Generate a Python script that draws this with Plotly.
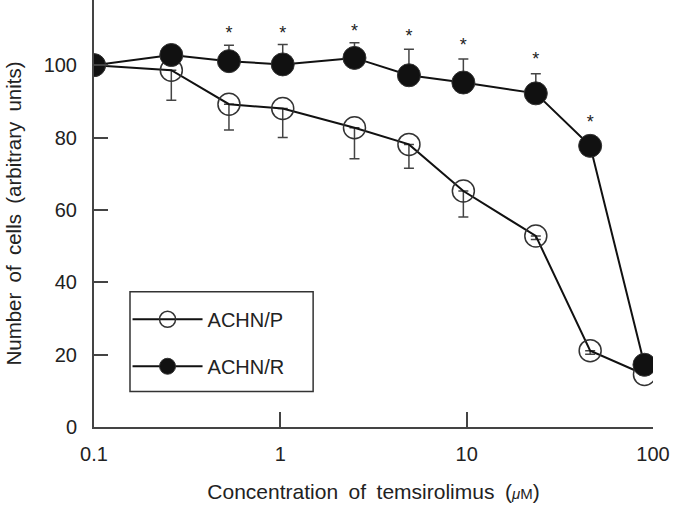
import numpy as np
import plotly.graph_objects as go

conc = [0.1, 0.26, 0.53, 1.03, 2.5, 4.9, 9.6, 23.5, 46, 90]
achn_p = [100, 98.6, 89.2, 88.0, 82.7, 78.1, 65.2, 52.8, 21.1, 14.5]
achn_p_err = [0, 8.3, 7.1, 8.0, 8.6, 6.6, 7.2, 1.0, 1.0, 0]
achn_r = [100, 102.8, 101.1, 100.2, 102.0, 97.2, 95.2, 92.2, 77.7, 17.2]
achn_r_err = [0, 1.0, 4.4, 5.5, 4.2, 7.2, 6.5, 5.4, 0.5, 0]
star_conc = [0.53, 1.03, 2.5, 4.9, 9.6, 23.5, 46]
star_y = [108.4, 108.4, 108.9, 107.6, 105.2, 101.3, 83.8]
x_ticks = [0.1, 1, 10, 100]
x_ticklabels = ["0.1", "1", "10", "100"]
y_ticks = [0, 20, 40, 60, 80, 100]

FONT = "Liberation Sans, Arial, Helvetica, sans-serif"
TXT = "#222222"
SP = "\u2002"

fig = go.Figure()
fig.add_trace(go.Scatter(
    x=conc, y=achn_p, name="ACHN/P", mode="lines+markers",
    legendgroup="p",
    line=dict(color="#111111", width=2),
    marker=dict(symbol="circle-open", size=22, color="#333333", line=dict(width=1.5)),
    error_y=dict(type="data", symmetric=False, array=[0] * len(achn_p_err),
                 arrayminus=achn_p_err, color="#444444", thickness=1.5, width=5),
))
fig.add_trace(go.Scatter(
    x=conc, y=achn_r, name="ACHN/R", mode="lines+markers",
    legendgroup="r",
    line=dict(color="#111111", width=2),
    marker=dict(symbol="circle", size=23, color="#111111", line=dict(width=1, color="#333333")),
    error_y=dict(type="data", symmetric=False, array=achn_r_err,
                 arrayminus=[0] * len(achn_r_err), color="#444444", thickness=1.5, width=5),
))
fig.add_trace(go.Scatter(
    x=star_conc, y=star_y, mode="text", text=["*"] * len(star_conc),
    textposition="middle center", showlegend=False, hoverinfo="skip",
    textfont=dict(family=FONT, size=18, color=TXT),
))

# legend frame (decoration)
fig.add_shape(type="rect", xref="paper", yref="paper",
              x0=0.0644, x1=0.392, y0=0.083, y1=0.317,
              line=dict(color="#333333", width=1.5), fillcolor="rgba(0,0,0,0)", layer="above")

fig.update_layout(
    width=676, height=505,
    margin=dict(l=94, r=23, t=0, b=78, autoexpand=False),
    paper_bgcolor="white", plot_bgcolor="white",
    font=dict(family=FONT, size=20, color=TXT),
    showlegend=True,
    legend=dict(
        x=0.06, y=0.298, xanchor="left", yanchor="top",
        borderwidth=0, bgcolor="rgba(0,0,0,0)",
        traceorder="grouped", tracegroupgap=18,
        font=dict(family=FONT, size=20, color=TXT),
        itemwidth=70,
    ),
    xaxis=dict(
        type="log", range=[-1, 2], automargin=False,
        tickvals=x_ticks, ticktext=x_ticklabels,
        ticks="inside", ticklen=15, tickwidth=1.5, tickcolor="#444444",
        showline=True, linecolor="#444444", linewidth=2,
        showgrid=False, zeroline=False, ticklabelstandoff=8,
        title=dict(text=SP.join(["Concentration", "of", "temsirolimus",
                                 "(<span style='font-size:15px'><i>μ</i>M</span>)"]),
                   font=dict(family=FONT, size=21, color=TXT), standoff=20),
    ),
    yaxis=dict(
        range=[0, 118], automargin=False,
        tickvals=y_ticks,
        ticks="inside", ticklen=14, tickwidth=1.5, tickcolor="#444444",
        showline=True, linecolor="#444444", linewidth=2,
        showgrid=False, zeroline=False, ticklabelstandoff=11,
        title=dict(text=SP.join(["Number", "of", "cells", "(arbitrary", "units)"]),
                   font=dict(family=FONT, size=20.5, color=TXT), standoff=16),
    ),
)

fig.write_html("out.html", config={"displayModeBar": False},
               post_script="document.body.style.margin='0px';document.body.style.padding='0px';")
